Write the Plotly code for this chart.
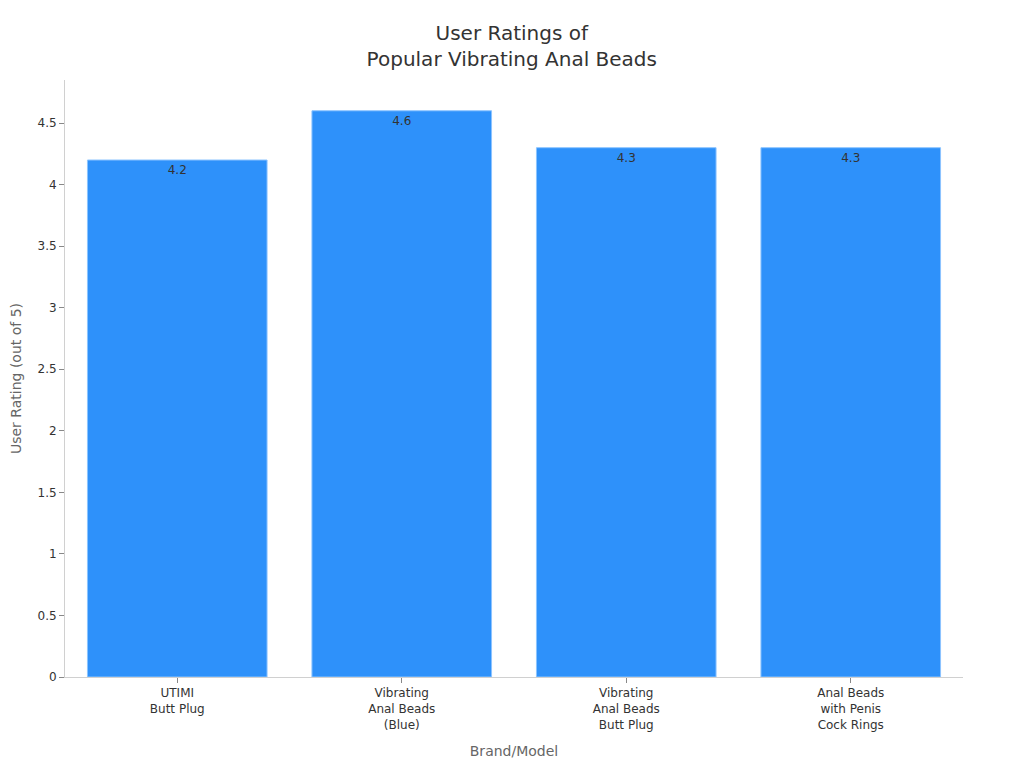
import plotly.graph_objects as go

categories = ["UTIMI<br>Butt Plug", "Vibrating<br>Anal Beads<br>(Blue)", "Vibrating<br>Anal Beads<br>Butt Plug", "Anal Beads<br>with Penis<br>Cock Rings"]
ratings = [4.2, 4.6, 4.3, 4.3]
labels = ["4.2", "4.6", "4.3", "4.3"]

fig = go.Figure(go.Bar(
    x=categories, y=ratings, text=labels, textposition="inside", insidetextanchor="end",
    textfont=dict(color="#333333", size=12),
    marker=dict(color="#2E91FA", line=dict(color="#8CC4FF", width=1)),
    cliponaxis=False,
))

fig.update_layout(
    width=1024, height=768,
    margin=dict(l=57, r=69, t=72, b=99),
    paper_bgcolor="white", plot_bgcolor="white",
    font=dict(family="DejaVu Sans", color="#333333", size=12),
    title=dict(text="User Ratings of<br>Popular Vibrating Anal Beads", x=0.492, xanchor="center",
               y=0.958, yanchor="top", font=dict(size=20, color="#333333")),
    bargap=0.2,
    showlegend=False,
    xaxis=dict(title=dict(text="Brand/Model", font=dict(size=14, color="#666666"), standoff=15),
               showline=True, linecolor="#D0D0D0", ticks="outside", tickcolor="#888888", ticklen=5,
               tickfont=dict(size=12, color="#333333")),
    yaxis=dict(title=dict(text="User Rating (out of 5)", font=dict(size=14, color="#666666"), standoff=20),
               automargin=False,
               range=[0, 4.85], dtick=0.5, showline=True, linecolor="#D0D0D0", showgrid=False,
               ticks="outside", tickcolor="#888888", ticklen=5, zeroline=False,
               tickfont=dict(size=12, color="#333333")),
)

fig.write_html("out.html")
